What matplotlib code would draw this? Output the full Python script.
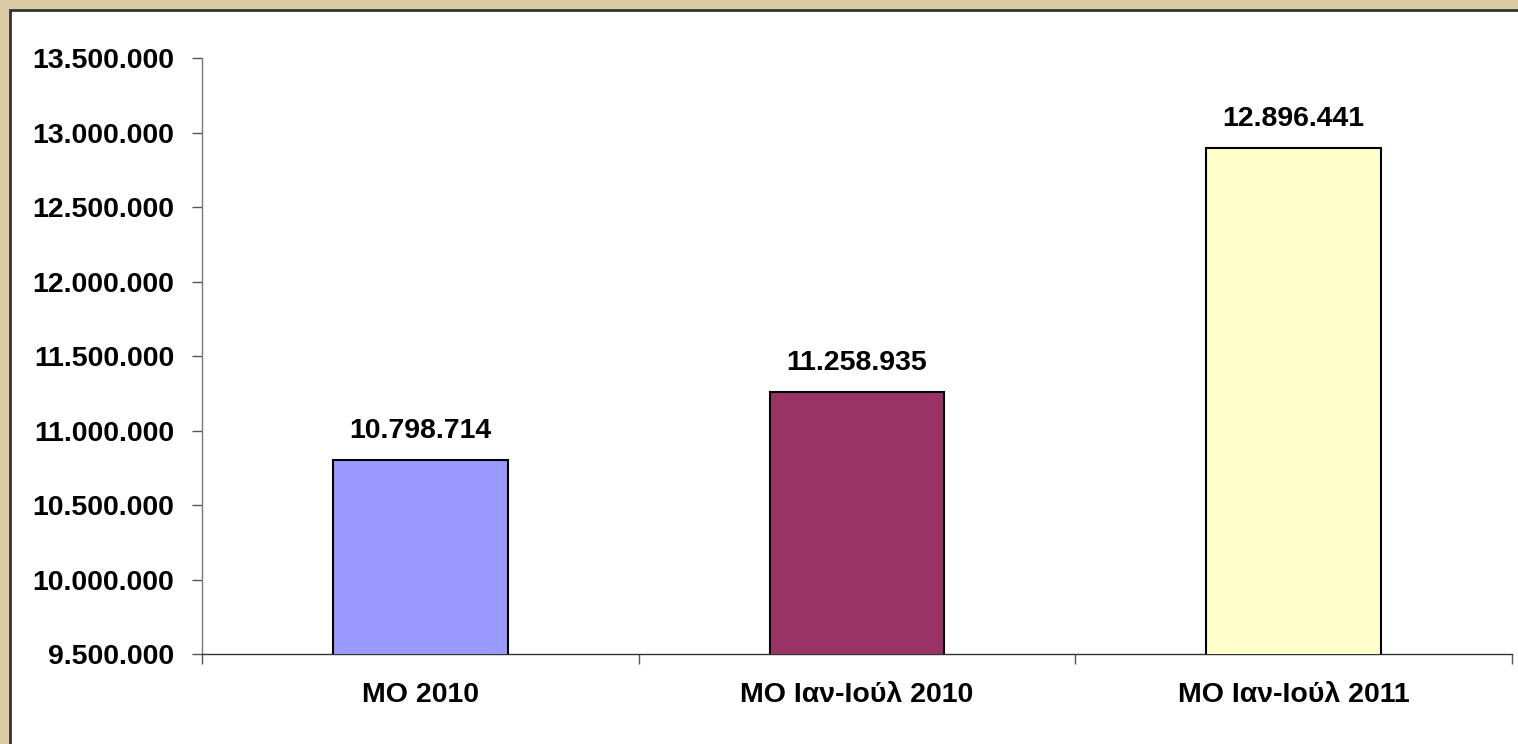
import matplotlib.pyplot as plt
from matplotlib.patches import Rectangle
from matplotlib.ticker import FuncFormatter

# data
categories = ['MO 2010', 'MO Ιαν-Ιούλ 2010', 'MO Ιαν-Ιούλ 2011']
values = [10798714, 11258935, 12896441]
bar_colors = ['#9999FF', '#993366', '#FFFFCC']

plt.rcParams['font.family'] = ['Liberation Sans', 'DejaVu Sans']
plt.rcParams['font.weight'] = 'bold'


def dotted(v, pos=None):
    return f"{int(round(v)):,}".replace(',', '.')


fig = plt.figure(figsize=(15.18, 7.44), dpi=100)
fig.patch.set_facecolor('#DCCCA6')

# white inner panel with dark frame (behind the axes)
W, H = 1518, 744
panel = Rectangle((10 / W, -0.1), 1.2, 1 - 10 / H + 0.1, transform=fig.transFigure,
                  facecolor='white', edgecolor='#333333', linewidth=2, zorder=-10)
fig.patches.append(panel)

ax = fig.add_axes([202 / W, 1 - 654 / H, (1512 - 202) / W, (654 - 58) / H])
ax.set_facecolor('none')

x = range(len(categories))
bars = ax.bar(x, values, width=0.4, color=bar_colors, edgecolor='black',
              linewidth=1.5, zorder=3)

for xi, v in zip(x, values):
    ax.annotate(dotted(v), (xi, v), textcoords='offset points', xytext=(0, 16),
                ha='center', va='baseline', fontsize=20.5, fontweight='bold')

ax.set_xlim(-0.5, 2.5)
ax.set_ylim(9500000, 13500000)
ax.set_yticks(range(9500000, 13500001, 500000))
ax.yaxis.set_major_formatter(FuncFormatter(dotted))

# category boundaries as major ticks, labels on minor ticks
ax.set_xticks([-0.5, 0.5, 1.5, 2.5])
ax.set_xticklabels([])
ax.set_xticks(list(x), minor=True)
ax.set_xticklabels(categories, minor=True)
ax.tick_params(axis='x', which='major', length=7, width=1, color='#555555', direction='out')
ax.tick_params(axis='x', which='minor', length=0, pad=20, labelsize=20.5)
ax.tick_params(axis='y', length=7, width=1, color='#555555', pad=13, labelsize=20.5)

for lab in ax.get_xticklabels(minor=True) + ax.get_yticklabels():
    lab.set_fontweight('bold')

ax.spines['top'].set_visible(False)
ax.spines['right'].set_visible(False)
ax.spines['left'].set_color('#777777')
ax.spines['bottom'].set_color('#333333')
ax.spines['left'].set_linewidth(1)
ax.spines['bottom'].set_linewidth(1)

fig.savefig('out.png', dpi=100, facecolor=fig.get_facecolor())
